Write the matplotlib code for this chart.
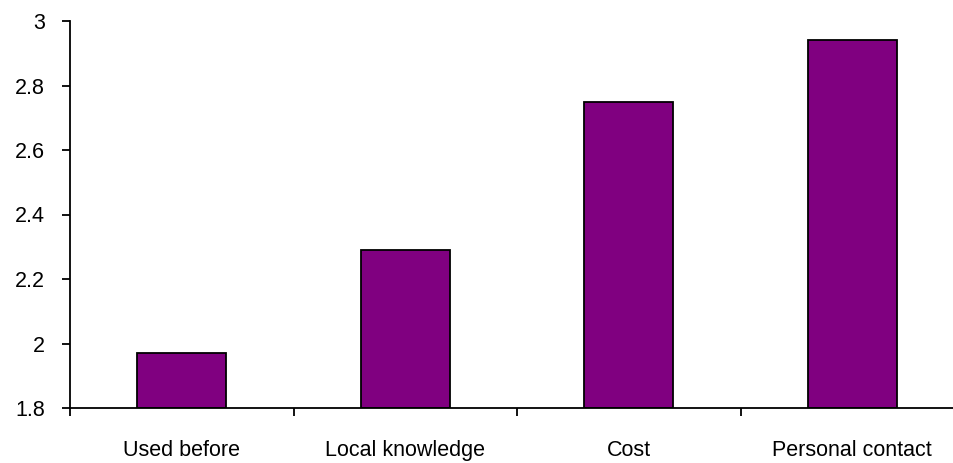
import matplotlib
matplotlib.use("Agg")
import matplotlib.pyplot as plt
from matplotlib.ticker import FixedLocator

categories = ["Used before", "Local knowledge", "Cost", "Personal contact"]
values = [1.97, 2.29, 2.75, 2.94]
yticks = [1.8, 2.0, 2.2, 2.4, 2.6, 2.8, 3.0]
ytick_labels = ["1.8", "2", "2.2", "2.4", "2.6", "2.8", "3"]

plt.rcParams['font.family'] = ['Liberation Sans', 'DejaVu Sans']

W, H = 954, 463
fig = plt.figure(figsize=(W / 100, H / 100), dpi=100)
left, right, top, bottom = 70, 964, 21, 408
ax = fig.add_axes([left / W, (H - bottom) / H, (right - left) / W, (bottom - top) / H])

x = list(range(len(categories)))
ax.bar(x, [v - 1.8 for v in values], bottom=1.8, width=0.4,
       color="#800080", edgecolor="black", linewidth=1.3, zorder=2)

ax.set_xlim(-0.5, len(categories) - 0.5)
ax.set_ylim(1.8, 3.0)
ax.set_yticks(yticks)
ax.set_yticklabels(ytick_labels)
ax.set_xticks(x)
ax.set_xticklabels(categories)
ax.xaxis.set_minor_locator(FixedLocator([i - 0.5 for i in range(len(categories) + 1)]))

for s in ["top", "right"]:
    ax.spines[s].set_visible(False)
for s in ["left", "bottom"]:
    ax.spines[s].set_linewidth(1.3)
    ax.spines[s].set_color("black")

ax.tick_params(axis="y", which="major", direction="out", length=6, width=1.3,
               pad=12, labelsize=15.5, colors="black")
ax.tick_params(axis="x", which="major", length=0, pad=23, labelsize=15.5, colors="black")
ax.tick_params(axis="x", which="minor", direction="out", length=6, width=1.3)

fig.savefig("out.png", dpi=100, facecolor="white")
